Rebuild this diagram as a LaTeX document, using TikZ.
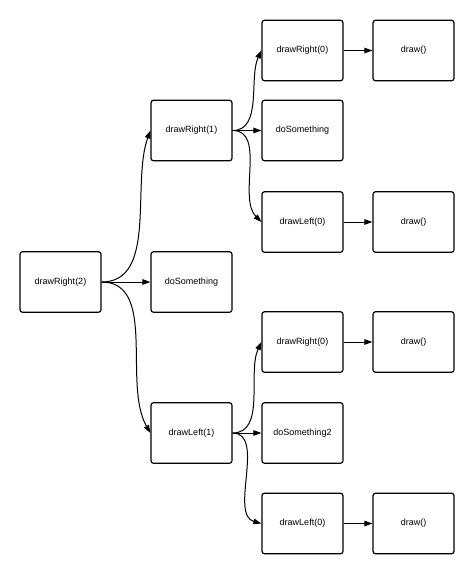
\documentclass[tikz,border=0pt]{standalone}
\usepackage{fontspec}
\setmainfont{Liberation Sans}
\usetikzlibrary{arrows.meta}
\begin{document}
\begin{tikzpicture}[x=1pt,y=-1pt,
  box/.style={draw, line width=1.2pt, rounded corners=2.5pt, minimum width=81pt, minimum height=60.5pt, inner sep=0pt, font=\fontsize{9}{11}\selectfont},
  arr/.style={line width=1pt, -{Triangle[length=8pt,width=5.5pt]}}]
\useasboundingbox (0,0) rectangle (474,574);
\node[box] (r2) at (60.5,282) {drawRight(2)};
\node[box] (r1) at (191.5,130.5) {drawRight(1)};
\node[box] (ds) at (191.5,282) {doSomething};
\node[box] (l1) at (191.5,433) {drawLeft(1)};
\node[box] (r1r0) at (302.5,50.5) {drawRight(0)};
\node[box] (r1ds) at (302.5,130.5) {doSomething};
\node[box] (r1l0) at (302.5,222) {drawLeft(0)};
\node[box] (l1r0) at (302.5,342) {drawRight(0)};
\node[box] (l1ds) at (302.5,433) {doSomething2};
\node[box] (l1l0) at (302.5,523.5) {drawLeft(0)};
\node[box] (d1) at (413.5,50.5) {draw()};
\node[box] (d2) at (413.5,222) {draw()};
\node[box] (d3) at (413.5,342) {draw()};
\node[box] (d4) at (413.5,523.5) {draw()};
% root
\draw[arr] (r2.east) to[out=0,in=-110,looseness=0.9] (r1.west);
\draw[arr] (r2.east) -- (ds.west);
\draw[arr] (r2.east) to[out=0,in=120,looseness=0.9] (l1.west);
% drawRight(1)
\draw[arr] (r1.east) to[out=0,in=-115,looseness=0.9] (r1r0.west);
\draw[arr] (r1.east) -- (r1ds.west);
\draw[arr] (r1.east) to[out=0,in=135,looseness=0.9] (r1l0.west);
% drawLeft(1)
\draw[arr] (l1.east) to[out=0,in=-115,looseness=0.9] (l1r0.west);
\draw[arr] (l1.east) -- (l1ds.west);
\draw[arr] (l1.east) to[out=0,in=165,looseness=0.9] (l1l0.west);
% draw()
\draw[arr] (r1r0.east) -- (d1.west);
\draw[arr] (r1l0.east) -- (d2.west);
\draw[arr] (l1r0.east) -- (d3.west);
\draw[arr] (l1l0.east) -- (d4.west);
\end{tikzpicture}
\end{document}
